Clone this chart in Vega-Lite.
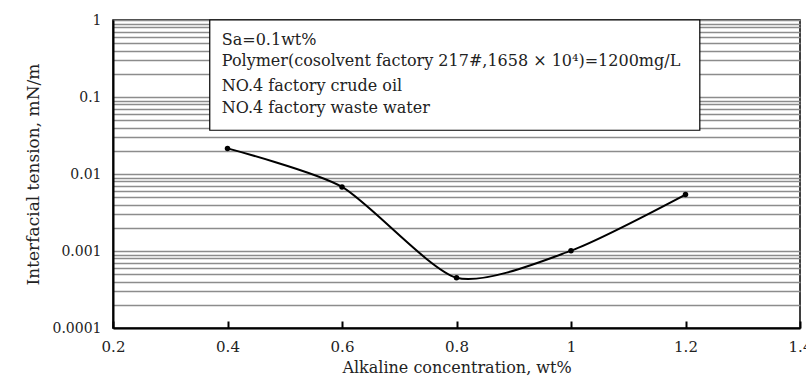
{
  "$schema": "https://vega.github.io/schema/vega-lite/v6.json",
  "width": 687,
  "height": 308,
  "autosize": "none",
  "padding": {"left": 113, "top": 20, "right": 6, "bottom": 50},
  "background": "white",
  "config": {
    "font": "DejaVu Serif",
    "view": {"stroke": "black", "strokeWidth": 1.5},
    "axis": {"labelFont": "DejaVu Serif", "titleFont": "DejaVu Serif", "labelColor": "#222", "titleColor": "#222", "titleFontWeight": "normal"}
  },
  "datasets": {
    "curve": [
      {"conc": 0.4, "ift": 0.0215},
      {"conc": 0.6, "ift": 0.0068},
      {"conc": 0.8, "ift": 0.00045},
      {"conc": 1.0, "ift": 0.00101},
      {"conc": 1.2, "ift": 0.0054}
    ],
    "box": [
      {"x1": 0.369, "x2": 1.225, "y1": 1, "y2": 0.037}
    ],
    "notes": [
      {"tx": 0.39, "ty": 0.55, "label": "Sa=0.1wt%"},
      {"tx": 0.39, "ty": 0.29, "label": "Polymer(cosolvent factory 217#,1658 × 10⁴)=1200mg/L"},
      {"tx": 0.39, "ty": 0.139, "label": "NO.4 factory crude oil"},
      {"tx": 0.39, "ty": 0.072, "label": "NO.4 factory waste water"}
    ]
  },
  "layer": [
    {
      "data": {"name": "curve"},
      "mark": {"type": "line", "color": "black", "strokeWidth": 2, "interpolate": "cardinal", "tension": 0.3, "clip": true},
      "encoding": {
        "x": {
          "field": "conc", "type": "quantitative",
          "scale": {"domain": [0.2, 1.4], "nice": false, "zero": false},
          "axis": {
            "values": [0.2, 0.4, 0.6, 0.8, 1.0, 1.2, 1.4],
            "title": "Alkaline concentration, wt%",
            "titleFontSize": 16,
            "labelFontSize": 15,
            "labelPadding": 18,
            "titlePadding": 5,
            "grid": false,
            "domainColor": "black",
            "domainWidth": 2,
            "tickColor": "black",
            "tickWidth": 2,
            "tickSize": -7,
            "labelExpr": "format(datum.value, '~g')",
            "labelFlush": false
          }
        },
        "y": {
          "field": "ift", "type": "quantitative",
          "scale": {"type": "log", "domain": [0.0001, 1], "nice": false},
          "axis": {
            "values": [0.0001, 0.0002, 0.0003, 0.0004, 0.0005, 0.0006, 0.0007, 0.0008, 0.0009,
                       0.001, 0.002, 0.003, 0.004, 0.005, 0.006, 0.007, 0.008, 0.009,
                       0.01, 0.02, 0.03, 0.04, 0.05, 0.06, 0.07, 0.08, 0.09,
                       0.1, 0.2, 0.3, 0.4, 0.5, 0.6, 0.7, 0.8, 0.9, 1],
            "labelExpr": "abs(log(datum.value)/log(10) - round(log(datum.value)/log(10))) < 0.000001 ? format(datum.value, '~g') : ''",
            "title": "Interfacial tension,  mN/m",
            "titleFontSize": 17,
            "labelFontSize": 14,
            "labelPadding": 12,
            "titlePadding": 10,
            "ticks": false,
            "grid": true,
            "gridColor": "#8c8c8c",
            "gridWidth": 1.6,
            "domainColor": "black",
            "domainWidth": 2,
            "labelOverlap": false,
            "labelFlush": false
          }
        }
      }
    },
    {
      "data": {"name": "curve"},
      "mark": {"type": "point", "filled": true, "color": "black", "size": 30, "opacity": 1},
      "encoding": {
        "x": {"field": "conc", "type": "quantitative"},
        "y": {"field": "ift", "type": "quantitative"}
      }
    },
    {
      "data": {"name": "box"},
      "mark": {"type": "rect", "fill": "white", "stroke": "black", "strokeWidth": 1.2},
      "encoding": {
        "x": {"field": "x1", "type": "quantitative"},
        "x2": {"field": "x2"},
        "y": {"field": "y1", "type": "quantitative"},
        "y2": {"field": "y2"}
      }
    },
    {
      "data": {"name": "notes"},
      "mark": {"type": "text", "align": "left", "baseline": "middle", "fontSize": 16, "font": "DejaVu Serif", "color": "#222"},
      "encoding": {
        "x": {"field": "tx", "type": "quantitative"},
        "y": {"field": "ty", "type": "quantitative"},
        "text": {"field": "label"}
      }
    }
  ]
}
